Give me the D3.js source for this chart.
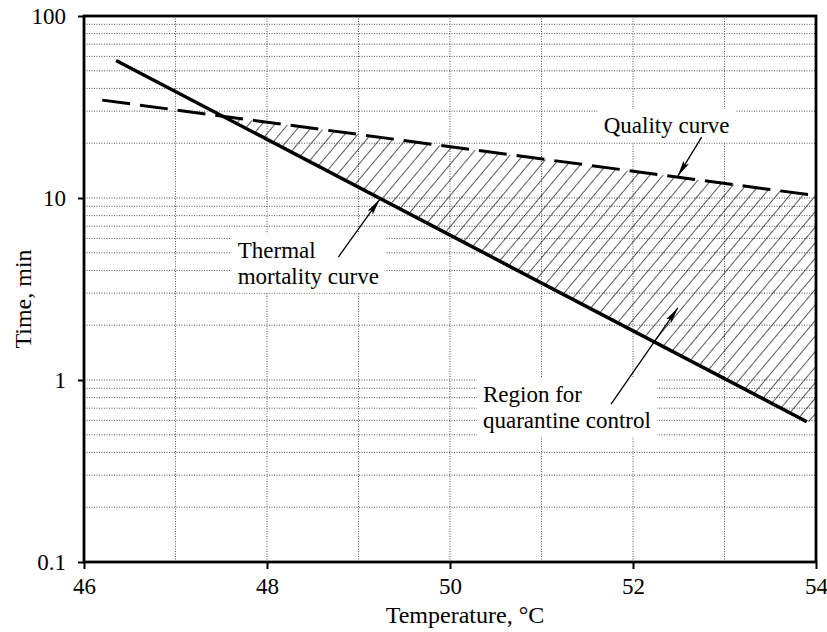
<!DOCTYPE html>
<html>
<head>
<meta charset="utf-8">
<script src="https://cdn.jsdelivr.net/npm/d3@7"></script>
<style>
  body { margin: 0; background: #fff; }
  svg text { font-family: "Liberation Serif", "Times New Roman", serif; fill: #000; }
</style>
</head>
<body>
<script>
// values
var tempTicks = [46, 48, 50, 52, 54];
var tempGrid = [47, 48, 49, 50, 51, 52, 53];
var timeTicks = [0.1, 1, 10, 100];
var timeTickLabels = ["0.1", "1", "10", "100"];

var thermalTemp = [46.35, 53.9];
var thermalTime = [57, 0.59];

var qualityTemp = [46.2, 54];
var qualityTime = [34.5, 10.3];

// hatched region between the two curves
var regionTemp = [47.5, 54];
var regionUpper = [28.2, 10.3];
var regionLower = [28.2, 0.56];

// annotations: [label lines, label temp, label time, arrow from temp, from time, to temp, to time]
var notes = [
  [["Quality curve"], 51.68, 22.7, 52.75, 21.6, 52.49, 13.2],
  [["Thermal", "mortality curve"], 47.68, 4.7, 48.78, 4.74, 49.23, 9.8],
  [["Region for", "quarantine control"], 50.36, 0.76, 51.76, 0.738, 52.49, 2.49]
];

var serif = "'Liberation Serif', 'Times New Roman', serif";

var main = function() {
  var width = 827, height = 632;
  var left = 84, right = 816, top = 16, bottom = 562;

  var svg = d3.select("body").append("svg")
              .attr("width", width)
              .attr("height", height);

  var x = d3.scaleLinear().domain([46, 54]).range([left, right]);
  var y = d3.scaleLog().domain([0.1, 100]).range([bottom, top]);

  // hatch pattern
  var defs = svg.append("defs");
  defs.append("pattern")
      .attr("id", "hatch")
      .attr("patternUnits", "userSpaceOnUse")
      .attr("width", 10).attr("height", 10)
      .attr("patternTransform", "rotate(40)")
    .append("line")
      .attr("x1", 0).attr("y1", 0).attr("x2", 0).attr("y2", 10)
      .attr("stroke", "#000").attr("stroke-width", 1.3);

  defs.append("marker")
      .attr("id", "head")
      .attr("markerUnits", "userSpaceOnUse")
      .attr("viewBox", "0 0 16 8")
      .attr("refX", 16).attr("refY", 4)
      .attr("markerWidth", 16).attr("markerHeight", 8)
      .attr("orient", "auto")
    .append("path")
      .attr("d", "M0,0.8 L16,4 L0,7.2 L3,4 Z")
      .attr("fill", "#000");

  // grid
  var grid = svg.append("g")
                .attr("stroke", "#444")
                .attr("stroke-width", 0.9)
                .attr("stroke-dasharray", "1,1.5");

  grid.selectAll(".hg")
      .data(y.ticks().filter(function(d) { return d > 0.1 && d < 100; }))
      .enter()
        .append("line")
        .attr("x1", left).attr("x2", right)
        .attr("y1", function(d) { return y(d); })
        .attr("y2", function(d) { return y(d); });

  grid.selectAll(".vg")
      .data(tempGrid)
      .enter()
        .append("line")
        .attr("y1", top).attr("y2", bottom)
        .attr("x1", function(d) { return x(d); })
        .attr("x2", function(d) { return x(d); });

  // hatched area
  var area = d3.area()
               .x(function(d, i) { return x(regionTemp[i]); })
               .y0(function(d, i) { return y(regionLower[i]); })
               .y1(function(d, i) { return y(regionUpper[i]); });

  svg.append("path")
     .attr("d", area(regionTemp))
     .attr("fill", "url(#hatch)");

  // label backgrounds + text
  var noteG = svg.append("g");
  notes.forEach(function(n) {
    var g = noteG.append("g");
    var bg = g.append("rect").attr("fill", "#fff");
    var t = g.append("text")
             .attr("x", x(n[1]))
             .attr("y", y(n[2]))
             .style("font-family", serif)
             .style("font-size", "23px");
    t.selectAll("tspan")
      .data(n[0])
      .enter()
        .append("tspan")
        .attr("x", x(n[1]))
        .attr("dy", function(d, i) { return i === 0 ? 0 : 26; })
        .text(function(d) { return d; });
    var b = t.node().getBBox();
    bg.attr("x", b.x - 6).attr("y", b.y - 4)
      .attr("width", b.width + 12).attr("height", b.height + 8);
  });

  // curves
  var line = d3.line()
               .x(function(d) { return x(d[0]); })
               .y(function(d) { return y(d[1]); });

  svg.append("path")
     .attr("d", line(d3.zip(thermalTemp, thermalTime)))
     .attr("fill", "none")
     .attr("stroke", "#000")
     .attr("stroke-width", 3.5);

  svg.append("path")
     .attr("d", line(d3.zip(qualityTemp, qualityTime)))
     .attr("fill", "none")
     .attr("stroke", "#000")
     .attr("stroke-width", 3)
     .attr("stroke-dasharray", "28,10");

  // arrows
  svg.selectAll(".arrow")
     .data(notes)
     .enter()
       .append("line")
       .attr("x1", function(d) { return x(d[3]); })
       .attr("y1", function(d) { return y(d[4]); })
       .attr("x2", function(d) { return x(d[5]); })
       .attr("y2", function(d) { return y(d[6]); })
       .attr("stroke", "#000")
       .attr("stroke-width", 1.3)
       .attr("marker-end", "url(#head)");

  // frame
  svg.append("rect")
     .attr("x", left).attr("y", top)
     .attr("width", right - left).attr("height", bottom - top)
     .attr("fill", "none")
     .attr("stroke", "#000")
     .attr("stroke-width", 2.8);

  // axes
  var xAxis = svg.append("g")
                 .attr("transform", "translate(0," + bottom + ")")
                 .call(d3.axisBottom(x).tickValues(tempTicks).tickSize(7).tickSizeOuter(0).tickPadding(9));
  xAxis.attr("font-family", null).attr("font-size", null);
  xAxis.select(".domain").remove();
  xAxis.selectAll("line").attr("stroke-width", 2);
  xAxis.selectAll("text")
       .style("font-family", serif).style("font-size", "23px");

  var yAxis = svg.append("g")
                 .attr("transform", "translate(" + left + ",0)")
                 .call(d3.axisLeft(y).tickValues(timeTicks).tickSize(6).tickSizeOuter(0).tickPadding(12)
                         .tickFormat(function(d, i) { return timeTickLabels[i]; }));
  yAxis.attr("font-family", null).attr("font-size", null);
  yAxis.select(".domain").remove();
  yAxis.selectAll("line").attr("stroke-width", 2);
  yAxis.selectAll("text")
       .style("font-family", serif).style("font-size", "23px");

  // axis titles
  svg.append("text")
     .attr("x", 465).attr("y", 623)
     .attr("text-anchor", "middle")
     .style("font-family", serif)
     .style("font-size", "24px")
     .text("Temperature, \u00B0C");

  svg.append("text")
     .attr("transform", "translate(31,299) rotate(-90)")
     .attr("text-anchor", "middle")
     .style("font-family", serif)
     .style("font-size", "24px")
     .text("Time, min");
};

main();
</script>
</body>
</html>
